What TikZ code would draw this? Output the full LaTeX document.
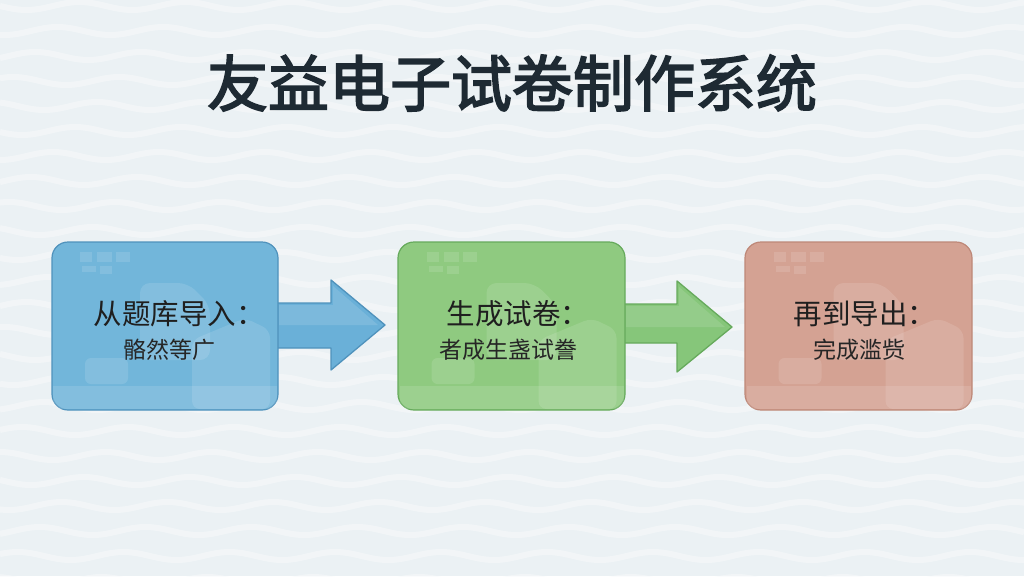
\documentclass[tikz,border=0pt]{standalone}
\usepackage{fontspec}
\newfontfamily\cjk{Noto Sans CJK SC}
\newfontfamily\cjkb{Noto Sans CJK SC}[FakeBold=2.8]
\definecolor{bg}{HTML}{EBF1F4}
\definecolor{wave}{HTML}{F8FAFB}
\definecolor{titlec}{HTML}{1E2A33}
\definecolor{bluef}{HTML}{72B6DA}
\definecolor{bluea}{HTML}{6AB0D8}
\definecolor{blued}{HTML}{4F92BC}
\definecolor{greenf}{HTML}{8FCA80}
\definecolor{greena}{HTML}{86C67A}
\definecolor{greend}{HTML}{66AA5C}
\definecolor{pinkf}{HTML}{D4A293}
\definecolor{pinkd}{HTML}{BE8878}
\tikzset{
  panel/.style={rounded corners=16pt, line width=1.2pt},
  maintext/.style={font=\cjk\fontsize{28.5}{31}\selectfont, text=black!88},
  subtext/.style={font=\cjk\fontsize{23}{26}\selectfont, text=black!85},
  deco/.style={fill=white, fill opacity=0.12, draw=none},
  arrowshape/.style={line width=1.3pt, line join=round}
}
\begin{document}
\begin{tikzpicture}[x=1pt,y=-1pt]
\useasboundingbox (0,0) rectangle (1024,576);
\fill[bg] (0,0) rectangle (1024,576);
% wavy background texture
\foreach \r in {0,...,23}{
  \pgfmathsetmacro{\yy}{\r*25+6}
  \draw[wave, line width=6pt, opacity=0.55]
    plot[domain=0:1024, samples=140, smooth] (\x, {\yy + 4*sin(\x*3.4 + \r*75)});
}
% title
\node (title) at (512,83) {\cjkb\fontsize{61}{64}\selectfont\color{titlec}友益电子试卷制作系统};

% arrows
\draw[arrowshape, draw=blued, fill=bluea]
  (270,303) -- (331,303) -- (331,280) -- (385,325) -- (331,370) -- (331,348) -- (270,348) -- cycle;
\coordinate (a1tip) at (385,325);
\draw[arrowshape, draw=greend, fill=greena]
  (615,304) -- (677,304) -- (677,281) -- (732,327) -- (677,372) -- (677,343) -- (615,343) -- cycle;
\coordinate (a2tip) at (732,327);
% light highlight on arrows
\fill[white, opacity=0.12] (279,305) -- (333,305) -- (333,286) -- (378,325) -- (279,325) -- cycle;
\fill[white, opacity=0.12] (626,306) -- (679,306) -- (679,287) -- (725,327) -- (626,327) -- cycle;

% panels
\node[panel, draw=blued, fill=bluef, minimum width=226pt, minimum height=168pt] (b1) at (165,326) {};
\node[panel, draw=greend, fill=greenf, minimum width=227pt, minimum height=168pt] (b2) at (511.5,326) {};
\node[panel, draw=pinkd, fill=pinkf, minimum width=227pt, minimum height=168pt] (b3) at (858.5,326) {};

% faint decorations inside panels
\foreach \cx in {165,511.5,858.5}{
  \begin{scope}[shift={(\cx-165,0)}]
    \fill[deco] (80,252) rectangle (92,262);
    \fill[deco] (97,252) rectangle (112,262);
    \fill[deco] (116,252) rectangle (130,262);
    \fill[deco] (82,266) rectangle (96,272);
    \fill[deco] (100,266) rectangle (112,274);
    \fill[deco, rounded corners=10pt] (140,283) -- (188,283) -- (210,305) -- (210,360) -- (140,360) -- cycle;
    \fill[deco, rounded corners=6pt] (85,358) rectangle (128,384);
    \fill[deco] (53,386) rectangle (277,409);
    \fill[deco, rounded corners=8pt] (192,340) -- (245,318) -- (270,330) -- (270,409) -- (192,409) -- cycle;
  \end{scope}
}

% texts
\node[maintext] (t1) at (179,314) {从题库导入：};
\node[subtext] (s1) at (169,350) {骼然等广};
\node[maintext] (t2) at (518,314) {生成试卷：};
\node[subtext] (s2) at (508,350) {者成生盏试誊};
\node[maintext] (t3) at (865,314) {再到导出：};
\node[subtext] (s3) at (859,350) {完成滥赀};
\end{tikzpicture}
\end{document}
